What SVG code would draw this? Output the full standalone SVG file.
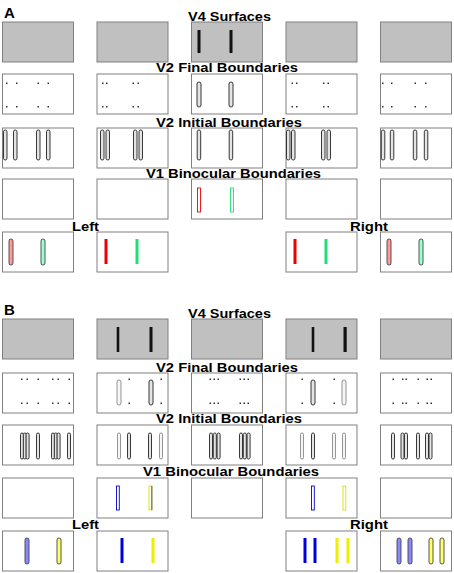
<svg xmlns="http://www.w3.org/2000/svg" width="454" height="573" viewBox="0 0 454 573">
<style>
text{font-family:"Liberation Sans",Arial,sans-serif;font-weight:bold;font-size:13px;fill:#000}
.big{font-size:15px}
.g{fill:#c0c0c0;stroke:#808080;stroke-width:1}
.w{fill:#fff;stroke:#808080;stroke-width:1}
.bar{fill:#111}
.ov{fill:#e4e4e4;stroke:#222;stroke-width:0.9}
.ol{fill:#f6f6f6;stroke:#888;stroke-width:0.9}
.d{fill:#333}
.red{fill:#ee0000}.grn{fill:#22dd77}.blu{fill:#0000dd}.yel{fill:#eeee00}
.ovr{fill:#ff9999;stroke:#444;stroke-width:0.9}
.ovg{fill:#99ffcc;stroke:#444;stroke-width:0.9}
.ovb{fill:#8888ff;stroke:#444;stroke-width:0.9}
.ovy{fill:#ffff66;stroke:#444;stroke-width:0.9}
.lr{fill:#fff;stroke:#ee0000;stroke-width:0.9}
.lg{fill:#fff;stroke:#22dd77;stroke-width:0.9}
.lb{fill:#fff;stroke:#0000dd;stroke-width:0.9}
.ly{fill:#fff;stroke:#dddd00;stroke-width:0.9}
</style>
<defs>
<rect id="d" width="1.5" height="1.5" class="d"/>
</defs>
<g id="labels">
<text class="big" x="4" y="17.5">A</text>
<text x="188" y="20.5" textLength="83" lengthAdjust="spacingAndGlyphs">V4 Surfaces</text>
<text x="156" y="72" textLength="142" lengthAdjust="spacingAndGlyphs">V2 Final Boundaries</text>
<text x="156" y="127" textLength="146" lengthAdjust="spacingAndGlyphs">V2 Initial Boundaries</text>
<text x="146" y="178" textLength="175" lengthAdjust="spacingAndGlyphs">V1 Binocular Boundaries</text>
<text x="72" y="230.5" textLength="27" lengthAdjust="spacingAndGlyphs">Left</text>
<text x="350" y="230.5" textLength="38" lengthAdjust="spacingAndGlyphs">Right</text>
<text class="big" x="4" y="314.5">B</text>
<text x="188" y="317.5" textLength="83" lengthAdjust="spacingAndGlyphs">V4 Surfaces</text>
<text x="156" y="371.5" textLength="142" lengthAdjust="spacingAndGlyphs">V2 Final Boundaries</text>
<text x="156" y="423" textLength="146" lengthAdjust="spacingAndGlyphs">V2 Initial Boundaries</text>
<text x="143" y="475.5" textLength="176" lengthAdjust="spacingAndGlyphs">V1 Binocular Boundaries</text>
<text x="72" y="529" textLength="27" lengthAdjust="spacingAndGlyphs">Left</text>
<text x="350" y="529" textLength="38" lengthAdjust="spacingAndGlyphs">Right</text>
</g>

<!-- PANEL A -->
<g id="A-V4">
<rect class="g" x="2.5" y="22" width="71" height="40"/>
<rect class="g" x="97" y="22" width="71" height="40"/>
<rect class="g" x="191.5" y="22" width="71" height="40"/>
<rect class="bar" x="197.5" y="30" width="3" height="23"/>
<rect class="bar" x="229.5" y="30" width="3" height="23"/>
<rect class="g" x="286" y="22" width="71" height="40"/>
<rect class="g" x="380.5" y="22" width="71" height="40"/>
</g>
<g id="A-V2F">
<rect class="w" x="2.5" y="74" width="71" height="40"/>
<rect class="w" x="97" y="74" width="71" height="40"/>
<rect class="w" x="191.5" y="74" width="71" height="40"/>
<rect class="w" x="286" y="74" width="71" height="40"/>
<rect class="w" x="380.5" y="74" width="71" height="40"/>
<g>
<use href="#d" x="6" y="82.5"/><use href="#d" x="16" y="82.5"/><use href="#d" x="37.5" y="82.5"/><use href="#d" x="47.5" y="82.5"/>
<use href="#d" x="6" y="106"/><use href="#d" x="16" y="106"/><use href="#d" x="37.5" y="106"/><use href="#d" x="47.5" y="106"/>
<use href="#d" x="102" y="82.5"/><use href="#d" x="106" y="82.5"/><use href="#d" x="132.5" y="82.5"/><use href="#d" x="137.5" y="82.5"/>
<use href="#d" x="102" y="106"/><use href="#d" x="106" y="106"/><use href="#d" x="132.5" y="106"/><use href="#d" x="137.5" y="106"/>
<use href="#d" x="291.5" y="82.5"/><use href="#d" x="296" y="82.5"/><use href="#d" x="323" y="82.5"/><use href="#d" x="327.5" y="82.5"/>
<use href="#d" x="291.5" y="106"/><use href="#d" x="296" y="106"/><use href="#d" x="323" y="106"/><use href="#d" x="327.5" y="106"/>
<use href="#d" x="382" y="82.5"/><use href="#d" x="391" y="82.5"/><use href="#d" x="414.5" y="82.5"/><use href="#d" x="425" y="82.5"/>
<use href="#d" x="382" y="106"/><use href="#d" x="391" y="106"/><use href="#d" x="414.5" y="106"/><use href="#d" x="425" y="106"/>
</g>
<rect class="ov" x="197" y="82" width="4" height="25" rx="2"/>
<rect class="ov" x="229" y="82" width="4" height="25" rx="2"/>
</g>
<g id="A-V2I">
<rect class="w" x="2.5" y="128" width="71" height="40"/>
<rect class="w" x="97" y="128" width="71" height="40"/>
<rect class="w" x="191.5" y="128" width="71" height="40"/>
<rect class="w" x="286" y="128" width="71" height="40"/>
<rect class="w" x="380.5" y="128" width="71" height="40"/>
<g>
<rect class="ov" x="3.5" y="130" width="3.5" height="30" rx="1.75"/>
<rect class="ov" x="13.5" y="130" width="3.5" height="30" rx="1.75"/>
<rect class="ov" x="36.5" y="130" width="3.5" height="30" rx="1.75"/>
<rect class="ov" x="46.5" y="130" width="3.5" height="30" rx="1.75"/>
<rect class="ov" x="100.5" y="130" width="3.5" height="30" rx="1.75"/>
<rect class="ov" x="106" y="130" width="3.5" height="30" rx="1.75"/>
<rect class="ov" x="133.5" y="130" width="3.5" height="30" rx="1.75"/>
<rect class="ov" x="139" y="130" width="3.5" height="30" rx="1.75"/>
<rect class="ov" x="197.2" y="130" width="3.5" height="30" rx="1.75"/>
<rect class="ov" x="229.2" y="130" width="3.5" height="30" rx="1.75"/>
<rect class="ov" x="286.5" y="130" width="3.5" height="30" rx="1.75"/>
<rect class="ov" x="291.5" y="130" width="3.5" height="30" rx="1.75"/>
<rect class="ov" x="321.5" y="130" width="3.5" height="30" rx="1.75"/>
<rect class="ov" x="327" y="130" width="3.5" height="30" rx="1.75"/>
<rect class="ov" x="381.3" y="130" width="3.5" height="30" rx="1.75"/>
<rect class="ov" x="390.3" y="130" width="3.5" height="30" rx="1.75"/>
<rect class="ov" x="413.3" y="130" width="3.5" height="30" rx="1.75"/>
<rect class="ov" x="424.3" y="130" width="3.5" height="30" rx="1.75"/>
</g>
</g>
<g id="A-V1">
<rect class="w" x="2.5" y="179" width="71" height="40"/>
<rect class="w" x="97" y="179" width="71" height="40"/>
<rect class="w" x="191.5" y="179" width="71" height="40"/>
<rect class="lr" x="197.5" y="188" width="3" height="24"/>
<rect class="lg" x="230.5" y="188" width="3" height="24"/>
<rect class="w" x="286" y="179" width="71" height="40"/>
<rect class="w" x="380.5" y="179" width="71" height="40"/>
</g>
<g id="A-Left">
<rect class="w" x="2.5" y="232" width="71" height="40"/>
<rect class="ovr" x="9" y="239" width="4" height="26" rx="2"/>
<rect class="ovg" x="41" y="239" width="4" height="26" rx="2"/>
<rect class="w" x="97" y="232" width="71" height="40"/>
<rect class="red" x="104.5" y="239" width="3" height="25"/>
<rect class="grn" x="135.5" y="239" width="3" height="25"/>
</g>
<g id="A-Right">
<rect class="w" x="286" y="232" width="71" height="40"/>
<rect class="red" x="293.5" y="239" width="3" height="25"/>
<rect class="grn" x="324.5" y="239" width="3" height="25"/>
<rect class="w" x="380.5" y="232" width="71" height="40"/>
<rect class="ovr" x="387" y="239" width="4" height="26" rx="2"/>
<rect class="ovg" x="419" y="239" width="4" height="26" rx="2"/>
</g>

<!-- PANEL B -->
<g id="B-V4">
<rect class="g" x="2.5" y="319" width="71" height="40"/>
<rect class="g" x="97" y="319" width="71" height="40"/>
<rect class="bar" x="116.7" y="327" width="2.6" height="25"/>
<rect class="bar" x="149.5" y="327" width="3" height="25"/>
<rect class="g" x="191.5" y="319" width="71" height="40"/>
<rect class="g" x="286" y="319" width="71" height="40"/>
<rect class="bar" x="311.7" y="327" width="2.6" height="25"/>
<rect class="bar" x="343.5" y="327" width="3.2" height="25"/>
<rect class="g" x="380.5" y="319" width="71" height="40"/>
</g>
<g id="B-V2F">
<rect class="w" x="2.5" y="373" width="71" height="40"/>
<rect class="w" x="97" y="373" width="71" height="40"/>
<rect class="w" x="191.5" y="373" width="71" height="40"/>
<rect class="w" x="286" y="373" width="71" height="40"/>
<rect class="w" x="380.5" y="373" width="71" height="40"/>
<g>
<use href="#d" x="21" y="378.5"/><use href="#d" x="26.5" y="378.5"/><use href="#d" x="37.5" y="378.5"/><use href="#d" x="52" y="378.5"/><use href="#d" x="57.5" y="378.5"/><use href="#d" x="68.5" y="378.5"/>
<use href="#d" x="21" y="402.5"/><use href="#d" x="26.5" y="402.5"/><use href="#d" x="37.5" y="402.5"/><use href="#d" x="52" y="402.5"/><use href="#d" x="57.5" y="402.5"/><use href="#d" x="68.5" y="402.5"/>
<use href="#d" x="128.5" y="378.5"/><use href="#d" x="160.5" y="378.5"/>
<use href="#d" x="128.5" y="402.5"/><use href="#d" x="160.5" y="402.5"/>
<use href="#d" x="209.5" y="378.5"/><use href="#d" x="213.5" y="378.5"/><use href="#d" x="217.5" y="378.5"/><use href="#d" x="239.5" y="378.5"/><use href="#d" x="243.5" y="378.5"/><use href="#d" x="247.5" y="378.5"/>
<use href="#d" x="209.5" y="402.5"/><use href="#d" x="213.5" y="402.5"/><use href="#d" x="217.5" y="402.5"/><use href="#d" x="239.5" y="402.5"/><use href="#d" x="243.5" y="402.5"/><use href="#d" x="247.5" y="402.5"/>
<use href="#d" x="301.5" y="378.5"/><use href="#d" x="333.5" y="378.5"/>
<use href="#d" x="301.5" y="402.5"/><use href="#d" x="333.5" y="402.5"/>
<use href="#d" x="392.5" y="378.5"/><use href="#d" x="402" y="378.5"/><use href="#d" x="405.5" y="378.5"/><use href="#d" x="417.5" y="378.5"/><use href="#d" x="426.5" y="378.5"/><use href="#d" x="430.5" y="378.5"/>
<use href="#d" x="392.5" y="402.5"/><use href="#d" x="402" y="402.5"/><use href="#d" x="405.5" y="402.5"/><use href="#d" x="417.5" y="402.5"/><use href="#d" x="426.5" y="402.5"/><use href="#d" x="430.5" y="402.5"/>
</g>
<rect class="ol" x="117" y="380" width="4" height="25" rx="2"/>
<rect class="ov" x="149" y="380" width="4" height="25" rx="2"/>
<rect class="ov" x="311" y="380" width="4" height="25" rx="2"/>
<rect class="ol" x="342" y="380" width="4" height="25" rx="2"/>
</g>
<g id="B-V2I">
<rect class="w" x="2.5" y="425" width="71" height="40"/>
<rect class="w" x="97" y="425" width="71" height="40"/>
<rect class="w" x="191.5" y="425" width="71" height="40"/>
<rect class="w" x="286" y="425" width="71" height="40"/>
<rect class="w" x="380.5" y="425" width="71" height="40"/>
<g>
<rect class="ov" x="20.5" y="433" width="3" height="26" rx="1.5"/>
<rect class="ov" x="23.3" y="433" width="3" height="26" rx="1.5"/>
<rect class="ov" x="26.1" y="433" width="3" height="26" rx="1.5"/>
<rect class="ov" x="36.5" y="433" width="3" height="26" rx="1.5"/>
<rect class="ov" x="51.5" y="433" width="3" height="26" rx="1.5"/>
<rect class="ov" x="54.3" y="433" width="3" height="26" rx="1.5"/>
<rect class="ov" x="57.1" y="433" width="3" height="26" rx="1.5"/>
<rect class="ov" x="67.5" y="433" width="3" height="26" rx="1.5"/>
<rect class="ol" x="117.5" y="433" width="3" height="26" rx="1.5"/>
<rect class="ov" x="127.5" y="433" width="3" height="26" rx="1.5"/>
<rect class="ov" x="148.5" y="433" width="3" height="26" rx="1.5"/>
<rect class="ol" x="159.5" y="433" width="3" height="26" rx="1.5"/>
<rect class="ov" x="209.5" y="433" width="3" height="26" rx="1.5"/>
<rect class="ov" x="213.3" y="433" width="3" height="26" rx="1.5"/>
<rect class="ov" x="217.1" y="433" width="3" height="26" rx="1.5"/>
<rect class="ov" x="239.5" y="433" width="3" height="26" rx="1.5"/>
<rect class="ov" x="243.3" y="433" width="3" height="26" rx="1.5"/>
<rect class="ov" x="247.1" y="433" width="3" height="26" rx="1.5"/>
<rect class="ol" x="300.5" y="433" width="3" height="26" rx="1.5"/>
<rect class="ov" x="311.5" y="433" width="3" height="26" rx="1.5"/>
<rect class="ol" x="332.5" y="433" width="3" height="26" rx="1.5"/>
<rect class="ol" x="342.5" y="433" width="3" height="26" rx="1.5"/>
<rect class="ov" x="391.5" y="433" width="3" height="26" rx="1.5"/>
<rect class="ov" x="401" y="433" width="3" height="26" rx="1.5"/>
<rect class="ov" x="404.5" y="433" width="3" height="26" rx="1.5"/>
<rect class="ov" x="416.5" y="433" width="3" height="26" rx="1.5"/>
<rect class="ov" x="425.5" y="433" width="3" height="26" rx="1.5"/>
<rect class="ov" x="429" y="433" width="3" height="26" rx="1.5"/>
</g>
</g>
<g id="B-V1">
<rect class="w" x="2.5" y="478" width="71" height="40"/>
<rect class="w" x="97" y="478" width="71" height="40"/>
<rect class="lb" x="116.5" y="486" width="2.8" height="24"/>
<rect class="ly" x="149" y="486" width="2.8" height="24"/>
<rect class="d" x="151.5" y="486" width="0.8" height="24"/>
<rect class="w" x="191.5" y="478" width="71" height="40"/>
<rect class="w" x="286" y="478" width="71" height="40"/>
<rect class="lb" x="311.5" y="486" width="2.8" height="24"/>
<rect class="ly" x="343" y="486" width="2.8" height="24"/>
<rect class="w" x="380.5" y="478" width="71" height="40"/>
</g>
<g id="B-Left">
<rect class="w" x="2.5" y="531" width="71" height="40"/>
<rect class="ovb" x="25" y="538" width="4" height="26" rx="2"/>
<rect class="ovy" x="57" y="538" width="4" height="26" rx="2"/>
<rect class="w" x="97" y="531" width="71" height="40"/>
<rect class="blu" x="120.5" y="538" width="3" height="25"/>
<rect class="yel" x="151.5" y="538" width="3" height="25"/>
</g>
<g id="B-Right">
<rect class="w" x="286" y="531" width="71" height="40"/>
<rect class="blu" x="303.5" y="538" width="3" height="25"/>
<rect class="blu" x="313.5" y="538" width="3" height="25"/>
<rect class="yel" x="335.5" y="538" width="3" height="25"/>
<rect class="yel" x="346.5" y="538" width="3" height="25"/>
<rect class="w" x="380.5" y="531" width="71" height="40"/>
<rect class="ovb" x="397" y="538" width="4" height="26" rx="2"/>
<rect class="ovb" x="408" y="538" width="4" height="26" rx="2"/>
<rect class="ovy" x="429" y="538" width="4" height="26" rx="2"/>
<rect class="ovy" x="440" y="538" width="4" height="26" rx="2"/>
</g>
</svg>
